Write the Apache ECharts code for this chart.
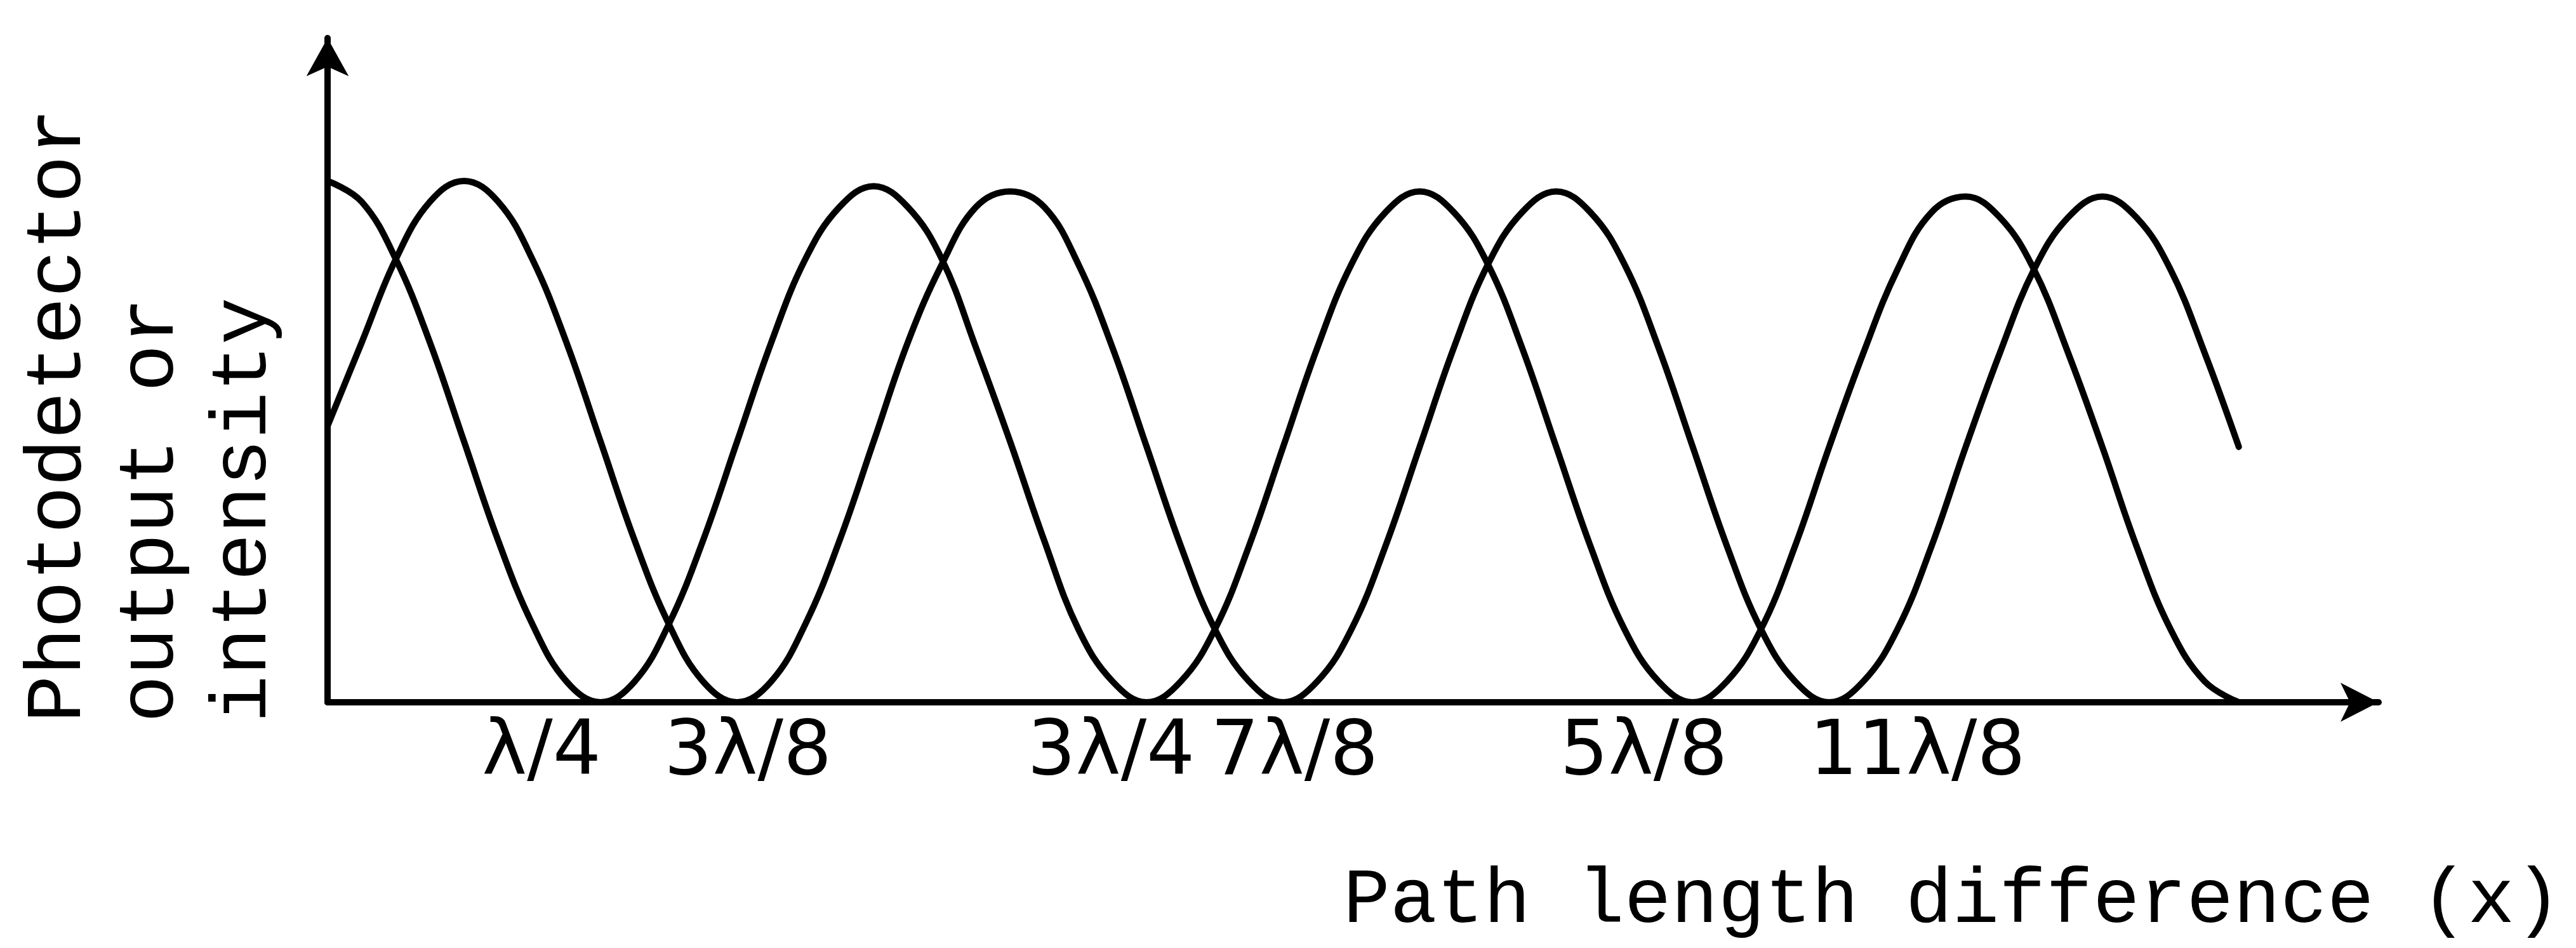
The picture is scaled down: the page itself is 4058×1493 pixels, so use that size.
<!DOCTYPE html>
<html>
<head>
<meta charset="utf-8">
<script src="https://cdn.jsdelivr.net/npm/echarts@6/dist/echarts.min.js"></script>
<style>
  html, body { margin: 0; padding: 0; background: #ffffff; }
  #chart { width: 4058px; height: 1493px; }
</style>
</head>
<body>
<div id="chart"></div>
<script>
// Path length difference x, in units of the wavelength λ
const pathDiff = [
  0, 0.03125, 0.0625, 0.09375, 0.125, 0.15625, 0.1875, 0.21875,
  0.25, 0.28125, 0.3125, 0.34375, 0.375, 0.40625, 0.4375, 0.46875,
  0.5, 0.53125, 0.5625, 0.59375, 0.625, 0.65625, 0.6875, 0.71875,
  0.75, 0.78125, 0.8125, 0.84375, 0.875, 0.90625, 0.9375, 0.96875,
  1, 1.03125, 1.0625, 1.09375, 1.125, 1.15625, 1.1875, 1.21875,
  1.25, 1.28125, 1.3125, 1.34375, 1.375, 1.40625, 1.4375, 1.46875,
  1.5, 1.53125, 1.5625, 1.59375, 1.625, 1.65625, 1.6875, 1.71875,
  1.75
];

// Photodetector output, first detector (maximum at x = 0)
const detectorA = [
  1.00, 0.96, 0.85, 0.69, 0.50, 0.31, 0.15, 0.04,
  0.00, 0.04, 0.15, 0.31, 0.50, 0.69, 0.85, 0.95,
  0.99, 0.95, 0.85, 0.68, 0.50, 0.31, 0.14, 0.04,
  0.00, 0.04, 0.14, 0.30, 0.49, 0.68, 0.84, 0.94,
  0.98, 0.94, 0.84, 0.68, 0.49, 0.30, 0.14, 0.04,
  0.00, 0.04, 0.14, 0.30, 0.49, 0.67, 0.83, 0.94,
  0.97, 0.93, 0.83, 0.67, 0.49, 0.30, 0.14, 0.04,
  0.00
];

// Photodetector output, second detector (shifted by λ/8)
const detectorB = [
  0.53, 0.69, 0.85, 0.96, 1.00, 0.96, 0.85, 0.69,
  0.50, 0.31, 0.15, 0.04, 0.00, 0.04, 0.15, 0.31,
  0.50, 0.69, 0.84, 0.95, 0.98, 0.95, 0.84, 0.68,
  0.49, 0.30, 0.14, 0.04, 0.00, 0.04, 0.14, 0.30,
  0.49, 0.68, 0.84, 0.94, 0.98, 0.94, 0.84, 0.68,
  0.49, 0.30, 0.14, 0.04, 0.00, 0.04, 0.14, 0.30,
  0.49, 0.67, 0.83, 0.93, 0.97, 0.93, 0.83, 0.67,
  0.49
];

// Marked path differences on the horizontal axis and their labels
const tickValues = [0.25, 0.375, 0.75, 0.875, 1.25, 1.375];
const tickLabels = ['λ/4', '3λ/8', '3λ/4', '7λ/8', '5λ/8', '11λ/8'];

const yAxisTitle = ['Photodetector', 'output or', 'intensity'];
const xAxisTitle = 'Path length difference (x)';

// ---- chart ----
const INK = '#000000';
const MONO = '"Liberation Mono", "DejaVu Sans Mono", monospace';

// horizontal nudge (px) of each tick label relative to its tick
const labelNudge = [-93, 17, -56, 18, -77, 139];

const rich = {};
tickLabels.forEach(function (t, i) {
  const s = labelNudge[i];
  rich['t' + i] = {
    fontFamily: '"DejaVu Sans", sans-serif',
    fontSize: 120,
    color: INK,
    padding: s >= 0 ? [0, 0, 0, 2 * s] : [0, -2 * s, 0, 0]
  };
});

function tickFormatter(value) {
  for (let i = 0; i < tickValues.length; i++) {
    if (Math.abs(tickValues[i] - value) < 1e-6) {
      return '{t' + i + '|' + tickLabels[i] + '}';
    }
  }
  return '';
}

function curve(values) {
  return pathDiff.map(function (x, i) { return [x, values[i]]; });
}

const lineSeries = function (name, values) {
  return {
    name: name,
    type: 'line',
    data: curve(values),
    smooth: 0.4,
    showSymbol: false,
    silent: true,
    lineStyle: { color: INK, width: 10, cap: 'round', join: 'round' },
    z: 3
  };
};

const chart = echarts.init(document.getElementById('chart'), null, { renderer: 'canvas' });

chart.setOption({
  animation: false,
  backgroundColor: '#ffffff',
  grid: { left: 516, right: 311, top: 60, bottom: 387, containLabel: false },
  xAxis: {
    type: 'value',
    min: 0,
    max: 1.878,
    interval: 0.125,
    axisLine: {
      show: true,
      onZero: false,
      symbol: ['none', 'arrow'],
      symbolSize: [46, 60],
      lineStyle: { color: INK, width: 10 }
    },
    axisTick: { show: false },
    splitLine: { show: false },
    axisLabel: {
      show: true,
      margin: 22,
      showMinLabel: true,
      showMaxLabel: false,
      formatter: tickFormatter,
      rich: rich
    }
  },
  yAxis: {
    type: 'value',
    min: 0,
    max: 1.274,
    axisLine: {
      show: true,
      onZero: false,
      symbol: ['none', 'arrow'],
      symbolSize: [50, 60],
      lineStyle: { color: INK, width: 10 }
    },
    axisTick: { show: false },
    axisLabel: { show: false },
    splitLine: { show: false }
  },
  series: [
    lineSeries('Detector A', detectorA),
    lineSeries('Detector B', detectorB)
  ],
  graphic: [
    {
      type: 'text',
      x: 20,
      y: 1138,
      rotation: Math.PI / 2,
      style: {
        text: yAxisTitle.join('\n'),
        fontSize: 124,
        fontFamily: MONO,
        lineHeight: 146,
        fill: INK,
        align: 'left',
        textAlign: 'left',
        verticalAlign: 'top',
        textVerticalAlign: 'top'
      }
    },
    {
      type: 'text',
      x: 4035,
      y: 1419,
      style: {
        text: xAxisTitle,
        fontSize: 123,
        fontFamily: MONO,
        fill: INK,
        align: 'right',
        textAlign: 'right',
        verticalAlign: 'middle',
        textVerticalAlign: 'middle'
      }
    }
  ]
});
</script>
</body>
</html>
